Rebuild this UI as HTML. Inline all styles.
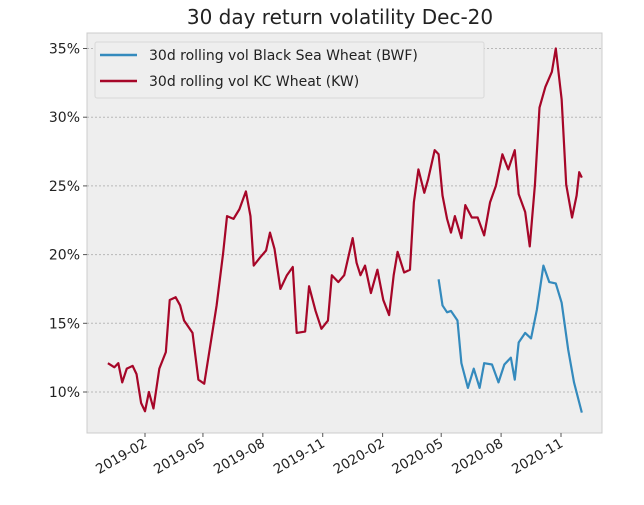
<!DOCTYPE html>
<html><head><meta charset="utf-8"><style>
body{margin:0;background:#fff;width:644px;height:500px;overflow:hidden}
svg text{font-family:"DejaVu Sans","Liberation Sans",sans-serif;fill:#222}
</style></head><body>
<svg id="chart" width="644" height="500">
<text x="340" y="24" font-size="20" text-anchor="middle">30 day return volatility Dec-20</text>
<rect x="87" y="33" width="515" height="400" fill="#eeeeee" stroke="#cccccc"/>
<g id="grid"></g><g id="series"></g><g id="axes"></g>
<g>
<rect x="95" y="42" width="389" height="56" fill="#eeeeee" stroke="#d8d8d8" rx="2"/>
<line x1="100" y1="55" x2="137" y2="55" stroke="#348abd" stroke-width="2.5"/>
<text x="149" y="60" font-size="14">30d rolling vol Black Sea Wheat (BWF)</text>
<line x1="100" y1="81" x2="137" y2="81" stroke="#a60628" stroke-width="2.5"/>
<text x="149" y="86" font-size="14">30d rolling vol KC Wheat (KW)</text>
</g>
</svg>
<script>
// days since 2019-01-01
const kwDays=[-26,-16,-10,-4,3,12,18,25,31,37,44,53,63,69,78,85,91,104,113,122,132,141,151,157,167,176,186,193,198,208,217,223,230,239,249,258,264,277,283,293,302,312,318,328,337,350,356,362,369,378,388,397,406,413,419,429,438,444,451,460,466,476,482,488,495,501,507,517,523,533,542,552,561,570,580,589,599,605,615,622,630,637,646,656,662,671,678,687,694,698,702];
const kwVals=[12.1,11.8,12.1,10.7,11.7,11.9,11.3,9.2,8.6,10.0,8.8,11.7,12.9,16.7,16.9,16.3,15.2,14.3,10.9,10.6,13.6,16.3,20.1,22.8,22.6,23.3,24.6,22.8,19.2,19.8,20.3,21.6,20.4,17.5,18.5,19.1,14.3,14.4,17.7,15.9,14.6,15.2,18.5,18.0,18.5,21.2,19.4,18.5,19.2,17.2,18.9,16.7,15.6,18.5,20.2,18.7,18.9,23.8,26.2,24.5,25.5,27.6,27.3,24.3,22.6,21.6,22.8,21.2,23.6,22.7,22.7,21.4,23.8,25.0,27.3,26.2,27.6,24.4,23.1,20.6,25.1,30.7,32.2,33.3,35.0,31.3,25.1,22.7,24.3,26.0,25.6];
const bwfDays=[482,488,495,501,511,517,527,536,545,552,564,574,583,593,599,605,615,624,633,643,652,662,671,681,690,702];
const bwfVals=[18.2,16.3,15.8,15.9,15.2,12.1,10.3,11.7,10.3,12.1,12.0,10.7,12.0,12.5,10.9,13.6,14.3,13.9,16.0,19.2,18.0,17.9,16.5,13.1,10.7,8.5];
const yTicks=[10,15,20,25,30,35];
const xTickDays=[31,120,212,304,396,486,578,670];
const xTickLabels=["2019-02","2019-05","2019-08","2019-11","2020-02","2020-05","2020-08","2020-11"];
const NS="http://www.w3.org/2000/svg";
const X=d=>145+(d-31)*0.651;
const Y=v=>392-(v-10)*13.74;
const grid=document.getElementById('grid'),axes=document.getElementById('axes'),ser=document.getElementById('series');
function mk(tag,attrs,parent){const e=document.createElementNS(NS,tag);for(const k in attrs)e.setAttribute(k,attrs[k]);parent.appendChild(e);return e;}
yTicks.forEach(t=>{
  const l=mk('line',{x1:87,x2:602,y1:Y(t),y2:Y(t),stroke:'#b8b8b8','stroke-dasharray':'2,2','stroke-width':1},grid);
  
  
  mk('line',{x1:83,x2:87,y1:Y(t),y2:Y(t),stroke:'#555'},axes);
  const tx=mk('text',{x:80,y:Y(t)+5,'font-size':14,'text-anchor':'end'},axes);
  tx.textContent=t+'%';
  
  
});
xTickDays.forEach((d,i)=>{
  const x=X(d);
  mk('line',{x1:x,x2:x,y1:433,y2:437,stroke:'#555'},axes);
  const tx=mk('text',{x:x+3,y:446,'font-size':13.5,'text-anchor':'end',transform:`rotate(-30 ${x+3} 446)`},axes);
  tx.textContent=xTickLabels[i];
  
  
});
function line(days,vals,color,name){
  const p=mk('polyline',{points:days.map((d,i)=>X(d)+','+Y(vals[i])).join(' '),fill:'none',stroke:color,'stroke-width':2.2,'stroke-linejoin':'round'},ser);
  
  
}
line(kwDays,kwVals,'#a60628','kw-line');
line(bwfDays,bwfVals,'#348abd','bwf-line');
</script>
</body></html>
